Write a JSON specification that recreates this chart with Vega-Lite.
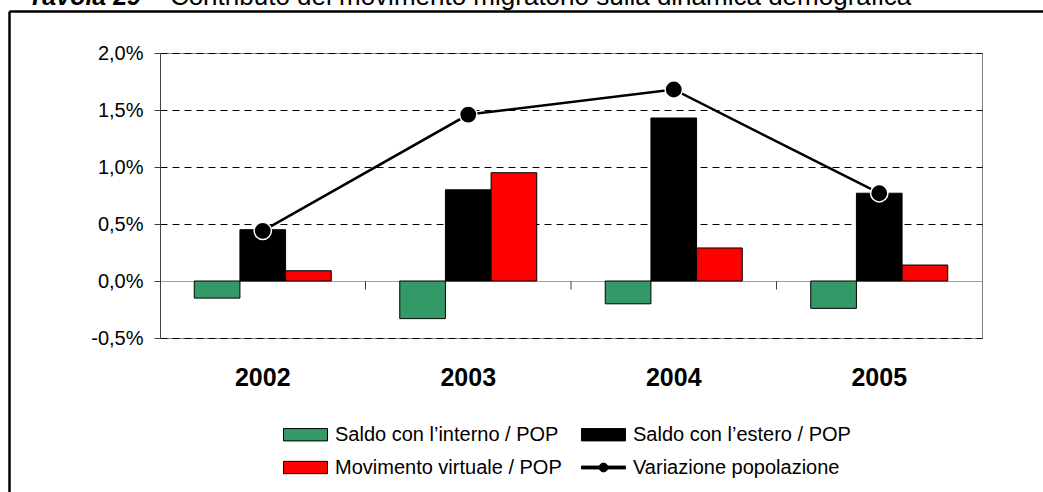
{
  "$schema": "https://vega.github.io/schema/vega-lite/v6.json",
  "autosize": {"type": "none"},
  "padding": {"left": 160, "top": 53, "right": 61, "bottom": 154},
  "width": 822,
  "height": 285,
  "background": "white",
  "config": {
    "view": {"stroke": "#808080", "strokeWidth": 1},
    "font": "Liberation Sans"
  },
  "datasets": {
    "bars": [
      {"year": "2002", "serie": "Saldo con l’interno / POP", "value": -0.15},
      {"year": "2002", "serie": "Saldo con l’estero / POP", "value": 0.45},
      {"year": "2002", "serie": "Movimento virtuale / POP", "value": 0.09},
      {"year": "2003", "serie": "Saldo con l’interno / POP", "value": -0.33},
      {"year": "2003", "serie": "Saldo con l’estero / POP", "value": 0.80},
      {"year": "2003", "serie": "Movimento virtuale / POP", "value": 0.95},
      {"year": "2004", "serie": "Saldo con l’interno / POP", "value": -0.20},
      {"year": "2004", "serie": "Saldo con l’estero / POP", "value": 1.43},
      {"year": "2004", "serie": "Movimento virtuale / POP", "value": 0.29},
      {"year": "2005", "serie": "Saldo con l’interno / POP", "value": -0.24},
      {"year": "2005", "serie": "Saldo con l’estero / POP", "value": 0.77},
      {"year": "2005", "serie": "Movimento virtuale / POP", "value": 0.14}
    ],
    "line": [
      {"year": "2002", "value": 0.44},
      {"year": "2003", "value": 1.46},
      {"year": "2004", "value": 1.68},
      {"year": "2005", "value": 0.77}
    ],
    "bounds": [
      {"year": "2003"},
      {"year": "2004"},
      {"year": "2005"}
    ],
    "one": [{}]
  },
  "layer": [
    {
      "data": {"name": "bars"},
      "mark": {"type": "bar", "stroke": "black", "strokeWidth": 1},
      "encoding": {
        "x": {
          "field": "year", "type": "nominal",
          "scale": {"domain": ["2002", "2003", "2004", "2005"], "paddingInner": 0.3333, "paddingOuter": 0.1667},
          "axis": {"title": null, "domain": false, "ticks": false, "tickSize": 0, "labelAngle": 0, "labelFont": "Liberation Sans", "labelFontSize": 25, "labelFontWeight": "bold", "labelColor": "black", "labelPadding": 39, "labelBaseline": "middle"}
        },
        "xOffset": {
          "field": "serie", "type": "nominal",
          "scale": {"domain": ["Saldo con l’interno / POP", "Saldo con l’estero / POP", "Movimento virtuale / POP"], "paddingInner": 0, "paddingOuter": 0}
        },
        "y": {
          "field": "value", "type": "quantitative",
          "scale": {"domain": [-0.5, 2], "nice": false, "zero": false},
          "axis": {
            "title": null,
            "values": [-0.5, 0, 0.5, 1, 1.5, 2],
            "labelExpr": "replace(replace(format(datum.value, '.1f'), '.', ','), '−', '-') + '%'",
            "labelFont": "Liberation Sans", "labelFontSize": 20, "labelColor": "black", "labelPadding": 11,
            "tickSize": 6, "tickColor": "#404040", "domainColor": "#404040",
            "grid": true,
            "gridColor": {"condition": {"test": "datum.value === 0", "value": "#808080"}, "value": "black"},
            "gridDash": {"condition": {"test": "datum.value === 0", "value": [1, 0]}, "value": [7, 5]}
          }
        },
        "y2": {"datum": 0},
        "color": {
          "field": "serie", "type": "nominal",
          "scale": {
            "domain": ["Saldo con l’interno / POP", "Movimento virtuale / POP", "Saldo con l’estero / POP", "Variazione popolazione"],
            "range": ["#339966", "#FF0000", "#000000", "#000000"]
          },
          "legend": {
            "title": null, "orient": "none", "legendX": 123, "legendY": 359,
            "columns": 2, "symbolSize": 1936, "labelFont": "Liberation Sans", "labelFontSize": 20, "labelColor": "black",
            "labelOffset": 7, "columnPadding": 17, "rowPadding": -17, "labelLimit": 400,
            "symbolStrokeColor": "black", "symbolStrokeWidth": 1,
            "encode": {
              "symbols": {
                "update": {
                  "shape": {"signal": "datum.value === 'Variazione popolazione' ? 'M-1,-0.065H1V0.065H-1Z M-0.2,0A0.2,0.2,0,1,1,0.2,0A0.2,0.2,0,1,1,-0.2,0Z' : 'M-1,-0.28H1V0.28H-1Z'"}
                }
              }
            }
          }
        }
      }
    },
    {
      "data": {"name": "bounds"},
      "mark": {"type": "rule", "color": "#404040", "strokeWidth": 1},
      "encoding": {
        "x": {"field": "year", "type": "nominal", "bandPosition": -0.25},
        "y": {"datum": 0},
        "y2": {"datum": -0.075}
      }
    },
    {
      "data": {"name": "line"},
      "mark": {"type": "line", "color": "black", "strokeWidth": 2.5},
      "encoding": {
        "x": {"field": "year", "type": "nominal"},
        "y": {"field": "value", "type": "quantitative"}
      }
    },
    {
      "data": {"name": "line"},
      "mark": {"type": "point", "shape": "circle", "filled": true, "fill": "black", "stroke": "white", "strokeWidth": 1.5, "size": 300, "opacity": 1},
      "encoding": {
        "x": {"field": "year", "type": "nominal"},
        "y": {"field": "value", "type": "quantitative"}
      }
    },
    {
      "data": {"name": "one"},
      "mark": {"type": "rule", "color": "black", "strokeWidth": 2.5},
      "encoding": {
        "x": {"datum": "2002", "type": "nominal", "bandPosition": -1.3485},
        "y": {"datum": 2.364},
        "y2": {"datum": -1.95}
      }
    },
    {
      "data": {"name": "one"},
      "mark": {"type": "rule", "color": "black", "strokeWidth": 2.5},
      "encoding": {
        "x": {"datum": "2002", "type": "nominal", "bandPosition": -1.3485},
        "x2": {"datum": "2005", "bandPosition": 1.75},
        "y": {"datum": 2.364}
      }
    },
    {
      "data": {"name": "one"},
      "mark": {"type": "text", "text": "Tavola 29", "font": "Liberation Sans", "fontSize": 25, "fontWeight": "bold", "fontStyle": "italic", "align": "left", "baseline": "alphabetic", "color": "black"},
      "encoding": {
        "x": {"datum": "2002", "type": "nominal", "bandPosition": -1.2135},
        "y": {"datum": 2.421}
      }
    },
    {
      "data": {"name": "one"},
      "mark": {"type": "text", "text": "- Contributo del movimento migratorio sulla dinamica demografica", "font": "Liberation Sans", "fontSize": 26, "align": "left", "baseline": "alphabetic", "color": "black"},
      "encoding": {
        "x": {"datum": "2002", "type": "nominal", "bandPosition": -0.2938},
        "y": {"datum": 2.421}
      }
    }
  ]
}
